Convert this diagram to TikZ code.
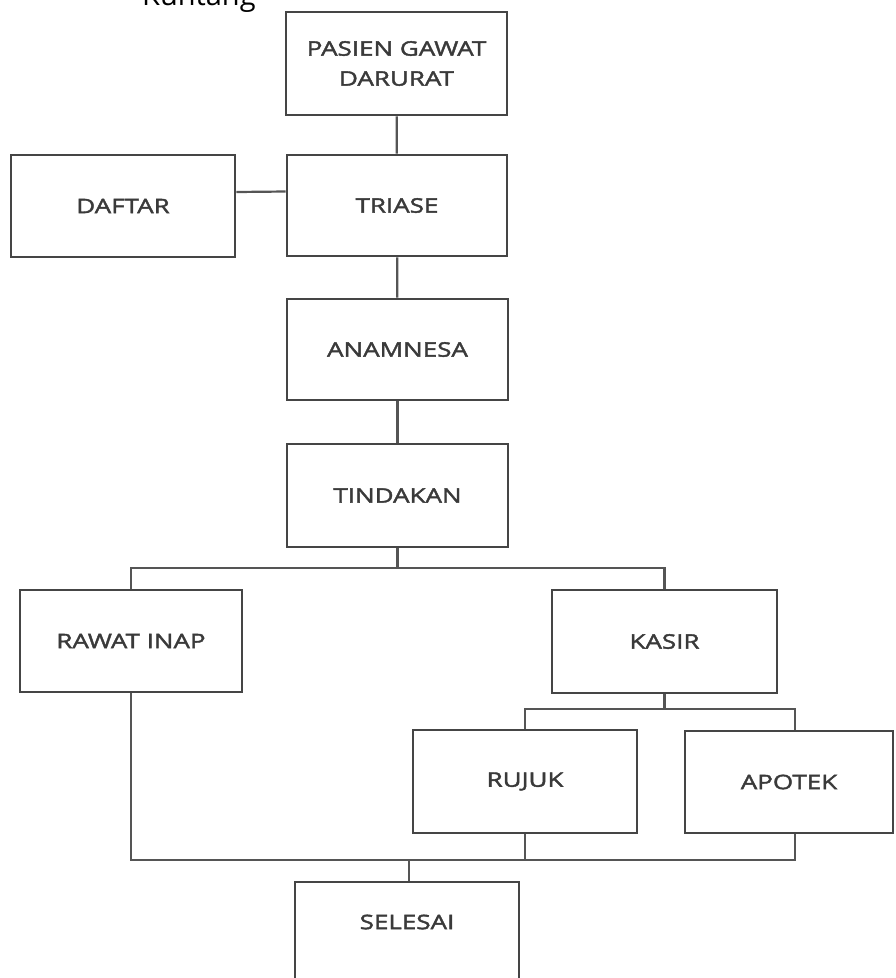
\documentclass[tikz,border=0pt]{standalone}
\usepackage{fontspec}
\newfontfamily\lblfont[FakeStretch=1.3, FakeBold=2]{Open Sans}
\newfontfamily\topfont{Open Sans}
\definecolor{boxline}{HTML}{454545}
\definecolor{conn}{HTML}{555555}
\definecolor{txt}{HTML}{3a3a3a}
\begin{document}
\begin{tikzpicture}[x=1pt,y=-1pt,
  box/.style={draw=boxline, line width=2.6pt, fill=white, minimum width=#1, minimum height=102pt,
    inner sep=0pt, align=center, text=txt, font=\lblfont\fontsize{20}{30}\selectfont},
  box/.default=222pt,
  conn/.style={draw=conn, line width=2.2pt}]
\clip (0,0) rectangle (895,978);
\fill[white] (0,0) rectangle (895,978);
% partial title at top
\node[anchor=base west, inner sep=0pt, text=black, font=\topfont\fontsize{29}{34}\selectfont] (title) at (142,5.5) {Kuntang};
% boxes
\node[box=221pt, minimum height=103pt] (pasien) at (396.5,63.5) {PASIEN GAWAT\\DARURAT};
\node[box=224pt] (daftar) at (123,206) {DAFTAR};
\node[box=220pt, minimum height=101pt] (triase) at (397,205.5) {TRIASE};
\node[box=221pt, minimum height=101pt] (anamnesa) at (397.5,349.5) {ANAMNESA};
\node[box=221pt, minimum height=103pt] (tindakan) at (397.5,495.5) {TINDAKAN};
\node[box=222pt] (rawat) at (131,641) {RAWAT INAP};
\node[box=225pt, minimum height=103pt] (kasir) at (664.5,641.5) {KASIR};
\node[box=224pt, minimum height=103pt] (rujuk) at (525,781.5) {RUJUK};
\node[box=208pt] (apotek) at (789,782) {APOTEK};
\node[box=224pt, minimum height=110pt] (selesai) at (407,937) {};
\node[text=txt, font=\lblfont\fontsize{20}{30}\selectfont, inner sep=0pt] (selesaitxt) at (407,922) {SELESAI};
% junction coordinates
\coordinate (j1) at (397.5,568);
\coordinate (j2) at (664.5,709);
\coordinate (j3) at (409,860);
\coordinate (apx) at (795,0);
% connectors
\draw[conn] (pasien) -- (triase);
\draw[conn] ([yshift=14pt]daftar.east) -- ([yshift=14pt]triase.west);
\draw[conn] (triase) -- (anamnesa);
\draw[conn] (anamnesa) -- (tindakan);
\draw[conn] (tindakan.south) -- (j1);
\draw[conn] (rawat.north) |- (j1) -| (kasir.north);
\draw[conn] (kasir.south) -- (j2);
\draw[conn] (rujuk.north) |- (j2) -| (apotek.north -| apx);
\draw[conn] (rawat.south) |- (j3 -| apx) -- (apotek.south -| apx);
\draw[conn] (rujuk.south) -- (rujuk.south |- j3);
\draw[conn] (j3) -- (selesai.north -| j3);
\end{tikzpicture}
\end{document}
